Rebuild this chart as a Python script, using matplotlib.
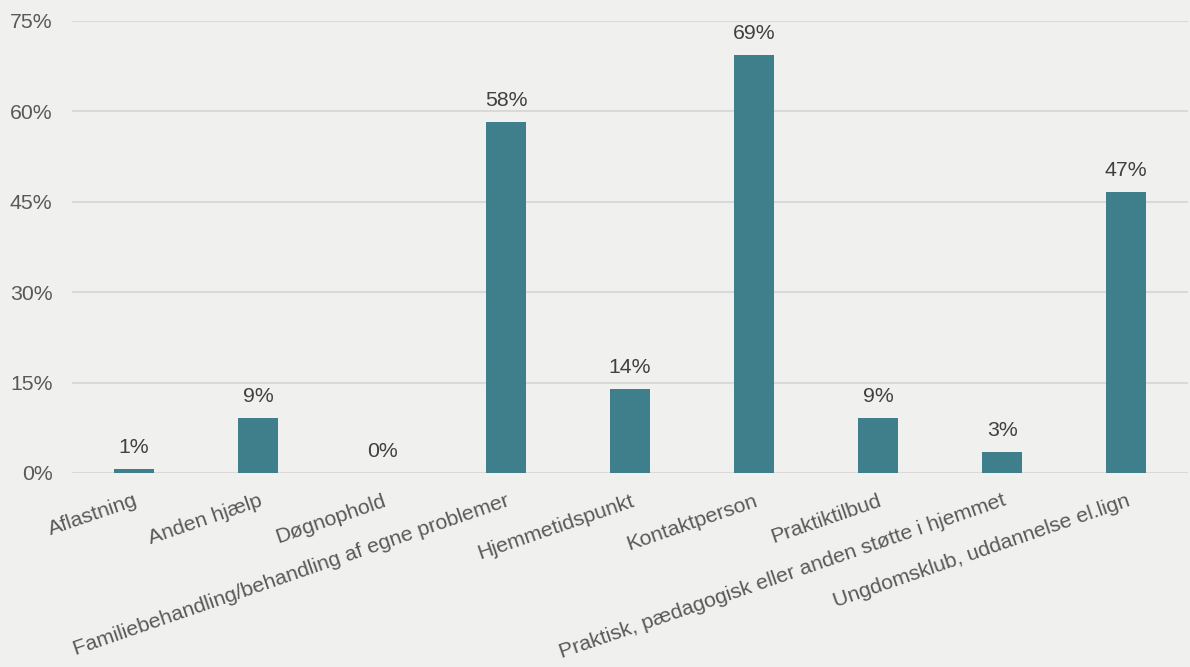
import matplotlib
matplotlib.use("Agg")
import matplotlib.pyplot as plt
from matplotlib.ticker import FuncFormatter

categories = ["Aflastning", "Anden hjælp", "Døgnophold",
              "Familiebehandling/behandling af egne problemer",
              "Hjemmetidspunkt", "Kontaktperson", "Praktiktilbud",
              "Praktisk, pædagogisk eller anden støtte i hjemmet",
              "Ungdomsklub, uddannelse el.lign"]
values = [0.6, 9.1, 0.0, 58.2, 13.9, 69.4, 9.1, 3.5, 46.7]
value_labels = ["1%", "9%", "0%", "58%", "14%", "69%", "9%", "3%", "47%"]
yticks = [0, 15, 30, 45, 60, 75]

plt.rcParams['font.family'] = ['Liberation Sans', 'DejaVu Sans']
bg = "#F0F0EF"
fs = 15.3
fig = plt.figure(figsize=(11.9, 6.67), dpi=100, facecolor=bg)
ax = fig.add_axes([72/1190, 1-473/667, (1188-72)/1190, (473-21)/667], facecolor=bg)

x = list(range(len(categories)))
ax.bar(x, values, width=0.32, color="#3E7F8B", zorder=3)
for xi, v, lab in zip(x, values, value_labels):
    ax.text(xi, v + 2.0, lab, ha="center", va="bottom", fontsize=fs, color="#404040")

ax.set_xlim(-0.5, len(categories) - 0.5)
ax.set_ylim(0, 75)
ax.set_yticks(yticks)
ax.yaxis.set_major_formatter(FuncFormatter(lambda v, p: f"{int(v)}%"))
ax.grid(axis="y", color="#D9D9D9", linewidth=1.5, zorder=0)
for s in ax.spines.values():
    s.set_visible(False)
ax.tick_params(axis="both", length=0, labelsize=fs, labelcolor="#595959")
ax.tick_params(axis="y", pad=14)
ax.set_xticks(x)
ax.set_xticklabels(categories, rotation=19, ha="right", rotation_mode="anchor")
ax.tick_params(axis="x", pad=13)

fig.savefig("out.png", dpi=100, facecolor=bg)
